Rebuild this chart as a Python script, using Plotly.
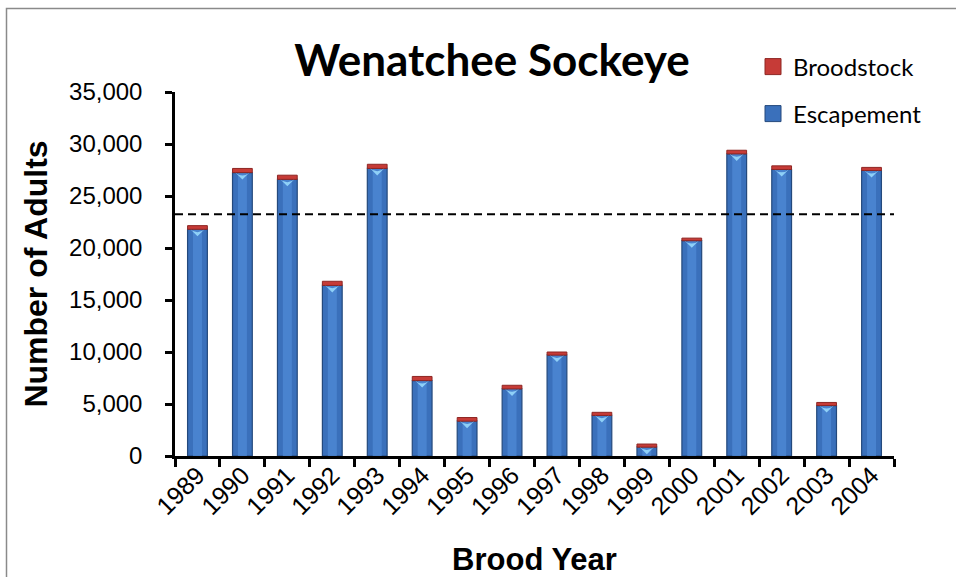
import plotly.graph_objects as go

# Brood years and adult counts
years = ["1989", "1990", "1991", "1992", "1993", "1994", "1995", "1996",
         "1997", "1998", "1999", "2000", "2001", "2002", "2003", "2004"]
escapement = [21800, 27250, 26600, 16400, 27650, 7250, 3350, 6450,
              9700, 3900, 850, 20700, 29050, 27550, 4850, 27450]
broodstock = [350, 400, 400, 400, 400, 400, 350, 350,
              300, 300, 300, 250, 350, 350, 300, 300]
reference_level = 23250
y_ticks = [0, 5000, 10000, 15000, 20000, 25000, 30000, 35000]

# plot-area pixel geometry
L, R, T, B = 175, 894, 92, 456
W, H = 956, 577
px_per_unit = (B - T) / 35000.0


def paper_x(px):
    return (px - L) / (R - L)


def paper_y(py):
    return (B - py) / (B - T)


fig = go.Figure()

# escapement bars
fig.add_trace(go.Bar(
    x=years, y=escapement, name="Escapement", width=0.44, showlegend=False,
    marker=dict(color="#3a70bb", line=dict(color="#24497c", width=1.2)),
))
# lighter centre strip for a rounded look
fig.add_trace(go.Bar(
    x=years, y=escapement, width=0.2, showlegend=False, hoverinfo="skip",
    marker=dict(color="#4f8ad6", line=dict(width=0)), opacity=0.75,
))
# broodstock stacked on top via base
fig.add_trace(go.Bar(
    x=years, y=broodstock, base=escapement, name="Broodstock", width=0.44,
    showlegend=False,
    marker=dict(color="#c63b37", line=dict(color="#8e2623", width=1)),
))
# bevel highlight at the top of each escapement bar
bevel_offset = 7 / px_per_unit
fig.add_trace(go.Scatter(
    x=years, y=[v - bevel_offset for v in escapement], mode="markers",
    showlegend=False, hoverinfo="skip",
    marker=dict(symbol="arrow-wide", angle=180, size=10,
                color="#8fd0f7", line=dict(width=0)),
))

# legend keys (square swatches)
fig.add_trace(go.Scatter(
    x=[None], y=[None], mode="markers", name="Broodstock", legend="legend",
    marker=dict(symbol="square", size=16, color="#c63b37",
                line=dict(color="#8e2623", width=1)),
))
fig.add_trace(go.Scatter(
    x=[None], y=[None], mode="markers", name="Escapement", legend="legend2",
    marker=dict(symbol="square", size=16, color="#3a70bb",
                line=dict(color="#24497c", width=1)),
))

fig.update_layout(
    width=W, height=H,
    margin=dict(l=L, r=W - R, t=T, b=H - B, pad=0, autoexpand=False),
    barmode="overlay",
    plot_bgcolor="white", paper_bgcolor="white",
    showlegend=True,
    font=dict(family="Liberation Sans, Arial", color="black"),
    title=dict(text="<b>Wenatchee Sockeye</b>", x=paper_x(492), xref="paper",
               xanchor="center", y=1 - 61 / H, yanchor="middle",
               font=dict(family="Lato", size=44, color="black")),
    legend=dict(x=paper_x(753), y=paper_y(67), xanchor="left", yanchor="middle",
                bgcolor="rgba(0,0,0,0)", font=dict(family="Lato", size=24)),
    legend2=dict(x=paper_x(753), y=paper_y(114), xanchor="left", yanchor="middle",
                 bgcolor="rgba(0,0,0,0)", font=dict(family="Lato", size=24)),
    xaxis=dict(
        type="category", range=[-0.5, len(years) - 0.5],
        tickson="boundaries", ticks="outside", ticklen=8,
        tickwidth=2.5, tickcolor="black", showline=True, linewidth=2.5,
        linecolor="black", tickangle=-45, showgrid=False,
        tickfont=dict(size=25), ticklabelstandoff=-8,
        title=dict(text="<b>Brood Year</b>", font=dict(size=31), standoff=46),
    ),
    yaxis=dict(
        range=[0, 35000], tickvals=y_ticks, tickformat=",", ticks="outside",
        ticklen=7, tickwidth=2.5, tickcolor="black", showline=True,
        linewidth=2.5, linecolor="black", showgrid=False, zeroline=False,
        tickfont=dict(size=24), ticklabelstandoff=18,
        title=dict(text="<b>Number of Adults</b>", font=dict(size=32), standoff=12),
    ),
    shapes=[
        dict(type="line", xref="paper", yref="y", x0=0, x1=1,
             y0=reference_level, y1=reference_level,
             line=dict(color="black", width=2, dash="8px,5px")),
        dict(type="rect", xref="paper", yref="paper",
             x0=paper_x(6.5), x1=paper_x(1000), y0=paper_y(8.5), y1=paper_y(620),
             line=dict(color="#8a8a8a", width=1.5), layer="below"),
    ],
)

fig.write_html("out.html")
